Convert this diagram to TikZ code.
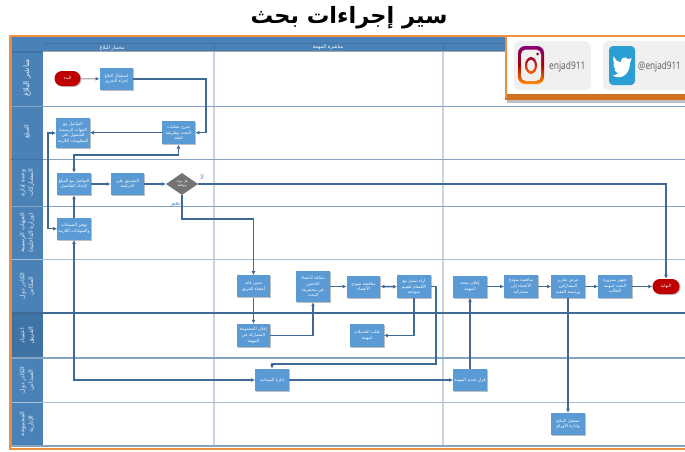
\documentclass[tikz,border=0pt]{standalone}
\usepackage{fontspec}
\usepackage{graphicx}
\usetikzlibrary{arrows.meta,shapes.geometric,shadows,calc}
\setmainfont{Open Sans}
\newfontfamily\arabicfont[Script=Arabic]{DejaVu Sans}
\TeXXeTstate=1
\newcommand{\ar}[1]{{\arabicfont\beginR #1\endR}}
\definecolor{hdr}{HTML}{4A82B8}
\definecolor{hdrdark}{HTML}{3F73A6}
\definecolor{boxc}{HTML}{5B9BD5}
\definecolor{connc}{HTML}{3F6A96}
\definecolor{lanec}{HTML}{86A3C2}
\definecolor{sepc}{HTML}{C6D3E1}
\definecolor{orangec}{HTML}{F0903C}
\definecolor{orangedark}{HTML}{D2711F}
\definecolor{cardc}{HTML}{F0F0F0}
\tikzset{
  boxnode/.style={draw=none,fill=boxc,text=white,inner sep=0pt,minimum width=33.5pt,minimum height=22pt,
    align=center,font=\fontsize{4.2}{5.6}\selectfont,
    drop shadow={shadow xshift=1pt,shadow yshift=-1pt,fill=black!45,opacity=.55}},
  pillnode/.style={draw=none,fill=red!75!black,text=white,rounded corners=7.4pt,inner sep=0pt,minimum width=26pt,minimum height=15pt,
    align=center,font=\fontsize{4.2}{5.6}\selectfont,
    drop shadow={shadow xshift=1pt,shadow yshift=-1pt,fill=black!45,opacity=.55}},
  decnode/.style={diamond,aspect=1.45,draw=none,fill=black!55,text=white,inner sep=0pt,minimum width=32pt,minimum height=22pt,
    align=center,font=\fontsize{3.2}{4}\selectfont},
  conn/.style={draw=connc,line width=1.4pt,-{Latex[length=4pt,width=4pt,color=connc]}},
  connboth/.style={draw=connc,line width=1.4pt,{Latex[length=4pt,width=4pt,color=connc]}-{Latex[length=4pt,width=4pt,color=connc]}},
  laneline/.style={draw=lanec,line width=1pt},
  sepline/.style={draw=sepc,line width=1.6pt},
  lanelabel/.style={text=white!88!hdr,rotate=90,align=center,inner sep=0pt,font=\fontsize{6}{8.5}\selectfont},
  headtext/.style={text=white,inner sep=0pt,font=\fontsize{5}{6}\selectfont},
  handle/.style={text=black!65,inner sep=0pt,font=\fontsize{10.5}{12}\selectfont},
  flag/.style={text=boxc,inner sep=0pt,font=\fontsize{7}{8}\selectfont},
}
\begin{document}
\begin{tikzpicture}[x=1pt,y=-1pt]
\useasboundingbox (0,0) rectangle (685,451);
\fill[white] (0,0) rectangle (685,451);
% title
\node[inner sep=0pt,font=\fontsize{22.5}{26}\selectfont\bfseries] (title) at (349,18) {\ar{سير إجراءات بحث}};
% frame header
\fill[hdr] (11,37) rectangle (685,51);
\draw[black!35,line width=.8pt] (11,51.6) -- (685,51.6);
\draw[hdrdark,line width=.5pt] (43,43) -- (685,43);
\fill[hdr] (11,51) rectangle (43,446);
\fill[hdrdark] (11,51) rectangle (43,53);
\fill[hdrdark] (11,313) rectangle (43,358);
% column separators
\draw[sepline] (214,52) -- (214,446);
\draw[sepline] (443,52) -- (443,446);
\draw[hdrdark,line width=.7pt] (214,43) -- (214,51);
\draw[hdrdark,line width=.7pt] (443,43) -- (443,51);
% lane lines
\draw[laneline] (11,106.5) -- (685,106.5);
\draw[laneline] (11,159) -- (685,159);
\draw[laneline] (11,206.5) -- (685,206.5);
\draw[laneline,draw=lanec!70] (11,259.5) -- (685,259.5);
\draw[laneline,draw=connc,line width=1.2pt] (11,313) -- (685,313);
\draw[laneline,line width=1.4pt] (11,358) -- (685,358);
\draw[laneline,draw=lanec!70] (11,402.5) -- (685,402.5);
\draw[laneline,line width=1.3pt] (11,446) -- (685,446);
\draw[lanec,line width=1pt] (11,37) -- (11,446);
\draw[hdrdark,line width=.8pt] (11,159) -- (43,159);
% orange frame
\draw[orangec,line width=2pt] (690,35.5) -- (9.5,35.5) -- (9.5,449) -- (690,449);
% headings
\node[headtext] (colA) at (112,48) {\ar{مختبار البلاغ}};
\node[headtext] (colB) at (328,47) {\ar{مباشرة المهمة}};
% lane labels
\node[lanelabel,font=\fontsize{7.6}{9}\selectfont] (laneA) at (27,78) {\ar{مباشر  البلاغ}};
\node[lanelabel] (laneB) at (27,132) {\ar{المبلغ}};
\node[lanelabel] (laneC) at (27,183) {\ar{وحدة إدارة}\\\ar{المشاركات}};
\node[lanelabel] (laneD) at (27,233) {\ar{الجهات الرسمية}\\\ar{(وزارة الداخلية)}};
\node[lanelabel] (laneE) at (27,286) {\ar{الكادر دول}\\\ar{المكاني}};
\node[lanelabel] (laneF) at (27,335.5) {\ar{اعتماد}\\\ar{الفريق}};
\node[lanelabel] (laneG) at (27,380) {\ar{الكادر دول}\\\ar{الميداني}};
\node[lanelabel] (laneH) at (27,424) {\ar{المجموعة}\\\ar{الإدارية}};
% nodes
\node[pillnode] (start) at (67.5,78.5) {\ar{البدء}};
\node[boxnode] (n1) at (116.5,79) {\ar{استقبال البلاغ}\\\ar{إجراء التحري}};
\node[boxnode,minimum height=30pt] (n2) at (73,133) {\ar{التواصل مع}\\\ar{الجهات الرسمية}\\\ar{للحصول على}\\\ar{المعلومات اللازمة}};
\node[boxnode,minimum height=23.5pt] (n3) at (178.5,132.7) {\ar{شرح عمليات}\\\ar{البحث وطريقة}\\\ar{العقد}};
\node[boxnode] (n4) at (74,184) {\ar{التواصل مع المبلغ}\\\ar{لإعداد التفاصيل}};
\node[boxnode] (n5) at (127.5,184) {\ar{التصديق على}\\\ar{الدراسة}};
\node[decnode] (dec) at (182,184) {\ar{هل توجد}\\\ar{موافقة}};
\node[boxnode] (n6) at (74,228.7) {\ar{توفير الضمانات}\\\ar{والشهادات اللازمة}};
\node[boxnode] (n7) at (253.5,286.3) {\ar{تعيين قائد}\\\ar{أعضاء الفريق}};
\node[boxnode,minimum height=23pt] (n8) at (253.5,335.5) {\ar{إعلان المجموعة}\\\ar{المشاركة في}\\\ar{المهمة}};
\node[boxnode,minimum height=31pt] (n9) at (313,286.5) {\ar{مقابلة لأعضاء}\\\ar{الباحثين}\\\ar{في محضرها}\\\ar{البحث}};
\node[boxnode] (n10) at (363.5,286.5) {\ar{مناقشة نموذج}\\\ar{الأعضاء}};
\node[boxnode,minimum height=22.5pt] (n11) at (414,286.7) {\ar{آراء تمثيل مع}\\\ar{الأقسام لتقييم}\\\ar{نموذجه}};
\node[boxnode,minimum height=23pt] (n12) at (367,335.5) {\ar{طلب التعديلات}\\\ar{لمهمة}};
\node[boxnode] (n13) at (470,286.5) {\ar{إعلان نتيجة}\\\ar{المهمة}};
\node[boxnode,minimum height=23pt] (n14) at (521,286.5) {\ar{مناقشة نموذج}\\\ar{الأعضاء إلى}\\\ar{مشاركيه}};
\node[boxnode,minimum height=23pt] (n15) at (568,286.5) {\ar{عرض تقارير}\\\ar{المشاركين}\\\ar{ورئيسة الفقيه}};
\node[boxnode,minimum height=23pt] (n16) at (615,286.5) {\ar{تجهيز سيرورة}\\\ar{البحث لمهمة}\\\ar{الطالب}};
\node[pillnode,minimum width=27pt] (finish) at (666,286.5) {\ar{النهاية}};
\node[boxnode] (n17) at (272,380) {\ar{إدارة الميدانية}};
\node[boxnode] (n18) at (470,380) {\ar{قرار تحديد المهمة}};
\node[boxnode] (n19) at (568,424) {\ar{تسجيل النتائج}\\\ar{وإدارة الأوراق}};
% flags
\node[flag] (no) at (202,177) {\ar{لا}};
\node[flag] (yes) at (176,205) {\ar{نعم}};
% routing points
\coordinate (r1) at (206,105);
\coordinate (r2) at (130,155);
\coordinate (r3) at (48,180);
\coordinate (r5) at (220,219);
\coordinate (r6) at (436,325);
\coordinate (r7) at (350,364);
% connectors
\draw[draw=black!30,line width=1.3pt,-{Latex[length=4pt,width=4pt,color=connc]}] (start) -- (n1);
\draw[conn] (n1.east) -| (r1) |- (n3.east);
\draw[conn] (n3.west) -- (n2.east |- n3.west);
\draw[connboth] (n4.north) |- (r2) -| (n3.south);
\draw[connboth] (n2.west) -| (r3) |- (n6.west);
\draw[conn] (n6.north) -- (n4.south);
\draw[conn] (n4.east) -- (n5.west);
\draw[conn] (n5.east) -- (dec.west);
\draw[conn] (dec.east) -| (finish.north);
\draw[conn] (dec.south) |- (r5) -| (n7.north);
\draw[conn] (n7.south) -- (n8.north);
\draw[conn] (n8.east) -| (n9.south);
\draw[conn] (n9.east) -- (n10.west);
\draw[connboth] (n10.east) -- (n11.west);
\draw[conn] (n11.south) |- (n12.east);
\draw[conn] (n11.east) -| (r6) |- (r7) -| (n17.north);
\draw[connboth] (n6.south) |- (n17.west);
\draw[conn] (n17.east) -- (n18.west);
\draw[conn] (n18.north) -- (n13.south);
\draw[conn] (n13.east) -- (n14.west);
\draw[conn] (n14.east) -- (n15.west);
\draw[conn] (n15.east) -- (n16.west);
\draw[conn] (n16.east) -- (finish.west);
\draw[conn] (n15.south) -- (n19.north);
% social badge
\fill[black!25] (507,100) rectangle (685,103);
\fill[white] (505,35) rectangle (685,100);
\fill[orangedark] (505,94) rectangle (685,100);
\draw[orangec,line width=2pt] (685,36) -- (505.5,36) -- (505.5,98);
\fill[cardc,rounded corners=6pt] (514,41) rectangle (591,90);
\fill[cardc,rounded corners=6pt] (603,41) rectangle (690,90);
% instagram
\shade[top color=purple!70!blue,bottom color=orange!90!yellow,middle color=red!65!black,rounded corners=7pt] (518,46) rectangle (544,84);
\fill[cardc,rounded corners=5pt] (521,49.5) rectangle (541,81);
\shade[top color=purple!80!black,bottom color=orange!80!red,even odd rule] (531,65.5) ellipse (6 and 8.5) (531,65.5) ellipse (3.8 and 6);
\fill[purple!70!black] (537.5,54) circle (1.5);
\node[handle,anchor=west] (ighandle) at (549,67) {\scalebox{.8}[1]{enjad911}};
% twitter
\fill[cyan!45!blue!75!white,rounded corners=4pt,fill={rgb,255:red,43;green,159;blue,212}] (609,46) rectangle (635,85);
\fill[white] (631.5,58) .. controls (630,59.3) and (629.5,59.5) .. (628,59.3)
  .. controls (626.5,56.5) and (621,56.5) .. (620.6,62.5)
  .. controls (618,62.3) and (615.5,60) .. (613.6,56)
  .. controls (612.8,59) and (613,62) .. (614.6,64)
  .. controls (614,64) and (613.6,64) .. (613.2,63.6)
  .. controls (613.4,66.5) and (614.6,68.5) .. (616,69.5)
  .. controls (615.4,69.6) and (615,69.6) .. (614.4,69.4)
  .. controls (615.2,71.5) and (616.5,72.8) .. (618.2,73.2)
  .. controls (616.8,74.8) and (615,75.4) .. (612.8,75.2)
  .. controls (618,80) and (630,77) .. (630,62.5)
  .. controls (630.8,61.5) and (631.3,60) .. (631.5,58) -- cycle;
\node[handle,anchor=west] (twhandle) at (638,67) {\scalebox{.78}[1]{@enjad911}};
\end{tikzpicture}
\end{document}
